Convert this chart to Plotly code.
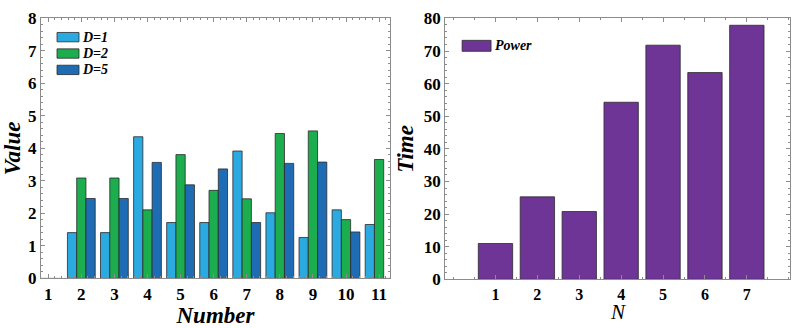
import plotly.graph_objects as go

# Left panel: values per Number for each D setting
numbers = [1, 2, 3, 4, 5, 6, 7, 8, 9, 10, 11]
series_names = ["D=1", "D=2", "D=5"]
d1 = [0, 1.41, 1.41, 4.36, 1.72, 1.72, 3.92, 2.02, 1.26, 2.11, 1.66]
d2 = [0, 3.09, 3.09, 2.11, 3.81, 2.71, 2.45, 4.46, 4.54, 1.81, 3.66]
d5 = [0, 2.46, 2.46, 3.57, 2.88, 3.37, 1.72, 3.54, 3.58, 1.43, 0]

# Right panel: time for each N
n_vals = [1, 2, 3, 4, 5, 6, 7]
power = [11.0, 25.3, 20.8, 54.3, 71.8, 63.4, 77.9]
power_name = "Power"

colors = ["#2BA9E1", "#1BAD4E", "#1D6CB4"]
purple = "#6E3596"
edge = "#2b2b2b"
frame = "#8c8c8c"
serif = "Liberation Serif, Times New Roman, serif"

fig = go.Figure()
for name, vals, c in zip(series_names, [d1, d2, d5], colors):
    fig.add_trace(go.Bar(x=numbers, y=vals, name=name, marker_color=c,
                         marker_line=dict(color=edge, width=0.8),
                         xaxis="x", yaxis="y", showlegend=False))

fig.add_trace(go.Bar(x=n_vals, y=power, name=power_name, marker_color=purple,
                     marker_line=dict(color=edge, width=0.8), width=0.82,
                     xaxis="x2", yaxis="y2", showlegend=False))

tickfont = dict(family=serif, size=17, color="black", weight="bold")
titlefont = dict(family=serif, size=23, color="black", style="italic", weight="bold")

axis_common = dict(showline=True, linecolor=frame, linewidth=1, mirror="allticks",
                   ticks="inside", ticklen=4, tickcolor=frame, showgrid=False,
                   zeroline=False, tickfont=tickfont, title_font=titlefont)
axis_x2 = {k: v for k, v in axis_common.items() if k not in ("title_font", "tickfont")}

fig.update_layout(
    width=800, height=328,
    margin=dict(l=0, r=0, t=0, b=0),
    paper_bgcolor="white", plot_bgcolor="white",
    barmode="group", bargap=0.16, bargroupgap=0,
    xaxis=dict(domain=[0.0512, 0.4875], anchor="y", range=[0.78, 11.33],
               tickmode="array", tickvals=numbers,
               minor=dict(ticks="inside", ticklen=2, tickcolor=frame, dtick=0.2),
               title=dict(text="Number", standoff=2), **axis_common),
    yaxis=dict(domain=[0.128, 0.9695], anchor="x", range=[0, 8], dtick=1,
               minor=dict(ticks="inside", ticklen=2, tickcolor=frame, dtick=0.2),
               title=dict(text="Value", standoff=5), **axis_common),
    xaxis2=dict(domain=[0.5565, 0.9875], anchor="y2", range=[-0.2, 8.03],
                tickmode="array", tickvals=n_vals,
                tickfont=dict(family=serif, size=16, color="black", weight="bold"),
                minor=dict(ticks="inside", ticklen=2, tickcolor=frame, dtick=0.5),
                **axis_x2),
    yaxis2=dict(domain=[0.125, 0.9695], anchor="x2", range=[0, 80], dtick=10,
                minor=dict(ticks="inside", ticklen=2, tickcolor=frame, dtick=2),
                title=dict(text="Time", standoff=3), **axis_common),
)

# Title of the right x axis, placed just under its tick labels
fig.add_annotation(xref="x2 domain", yref="paper", x=0.5, y=0.018,
                   text="N", showarrow=False, xanchor="center", yanchor="middle",
                   font=dict(family=serif, size=21, color="black", style="italic"))

# Legend boxes with swatches and italic labels
legend_font = dict(family=serif, size=14, color="black", style="italic", weight="bold")
for i, (name, c) in enumerate(zip(series_names, colors)):
    y_mid = 0.928 - i * 0.063
    fig.add_shape(type="rect", xref="x domain", yref="y domain",
                  x0=0.046, x1=0.109, y0=y_mid - 0.018, y1=y_mid + 0.018,
                  fillcolor=c, line=dict(color=edge, width=0.8))
    fig.add_annotation(xref="x domain", yref="y domain", x=0.112, y=y_mid,
                       text=name, showarrow=False, xanchor="left", yanchor="middle",
                       font=legend_font)

fig.add_shape(type="rect", xref="x2 domain", yref="y2 domain",
              x0=0.049, x1=0.133, y0=0.874, y1=0.916,
              fillcolor=purple, line=dict(color=edge, width=0.8))
fig.add_annotation(xref="x2 domain", yref="y2 domain", x=0.138, y=0.895,
                   text=power_name, showarrow=False, xanchor="left", yanchor="middle",
                   font=legend_font)

fig.write_html("out.html")
